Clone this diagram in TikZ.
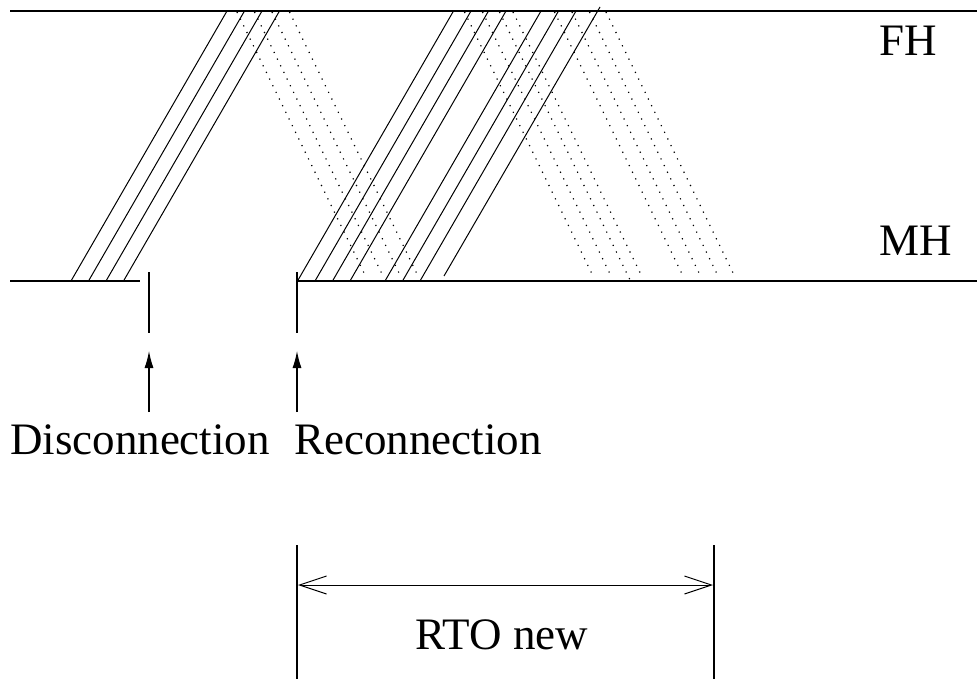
\documentclass[tikz,border=0pt]{standalone}
\usepackage{fontspec}
\setmainfont{Liberation Serif}
\usetikzlibrary{arrows.meta}

\begin{document}
\begin{tikzpicture}[
  x=0.5pt, y=-0.5pt,
  font=\fontsize{22.5}{27}\selectfont,
  hostline/.style={line width=0.65pt},
  seg/.style={line width=0.5pt},
  echo/.style={line width=0.6pt, dash pattern=on 0.6pt off 3.1pt},
  tick/.style={line width=0.55pt},
  evarr/.style={-{Latex[length=8.5pt,width=4.5pt]}, line width=0.55pt},
  spanarr/.style={{Straight Barb[length=13.5pt,width=9pt]}-{Straight Barb[length=13.5pt,width=9pt]}, line width=0.5pt},
  lbl/.style={inner sep=0pt}
]
\useasboundingbox (0,0) rectangle (977,679);

% host lines
\draw[hostline] (10,11) -- (977,11);
\draw[hostline] (10,281) -- (140,281);
\draw[hostline] (297,281) -- (977,281);
\node[lbl] (fh) at (908,41) {FH};
\node[lbl] (mh) at (916,241) {MH};

% segments sent (solid) and returned (dotted)
\foreach \b in {71,88.5,106,123.5,297.5,315,332.5,350,385,402.5,420}
  \draw[seg] (\b,281) -- ++(156,-270);
\draw[seg] (444,276) -- (600,7);
\foreach \t in {237,254.5,272,289.5,464.5,482.5,554.5,572,589.5,606}
  \draw[echo] (\t,12) -- ++(129,265);
\draw[echo] (499.5,12) -- (632,284);
\draw[echo] (513,12) -- (641.7,276);

% events
\draw[tick] (149,272) -- (149,333);
\draw[tick] (297,272) -- (297,333);
\coordinate (discTail) at (149,412);
\coordinate (discHead) at (149,351);
\coordinate (recoTail) at (297,412);
\coordinate (recoHead) at (297,351);
\draw[evarr] (discTail) -- (discHead);
\draw[evarr] (recoTail) -- (recoHead);
\node[lbl] (disc) at (140,440) {Disconnection};
\node[lbl] (reco) at (418,440) {Reconnection};

% new timeout
\draw[tick] (297,545) -- (297,679);
\draw[tick] (714,545) -- (714,679);
\coordinate (rtoL) at (298,585);
\coordinate (rtoR) at (713,585);
\draw[spanarr] (rtoL) -- (rtoR);
\node[lbl] (rto) at (502,635) {RTO new};
\end{tikzpicture}
\end{document}
